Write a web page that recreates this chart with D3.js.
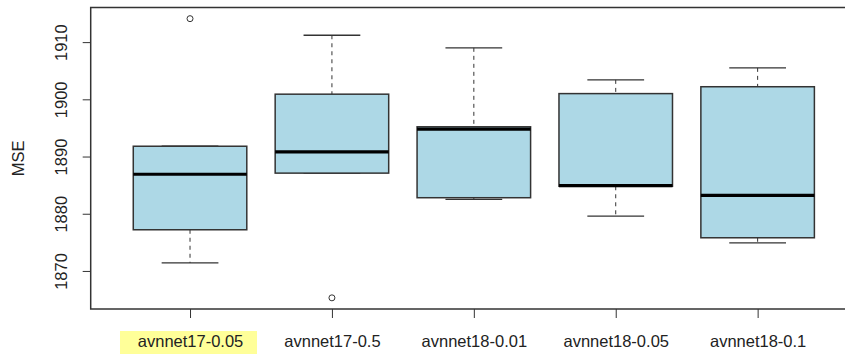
<!DOCTYPE html>
<html>
<head>
<meta charset="utf-8">
<script src="https://cdnjs.cloudflare.com/ajax/libs/d3/7.8.5/d3.min.js"></script>
<style>
  body { margin: 0; background: #fff; }
  svg { display: block; font-family: "Liberation Sans", Arial, sans-serif; }
</style>
</head>
<body>
<div id="boxPlotSVG"></div>
<script>
// values
var labels = ["avnnet17-0.05", "avnnet17-0.5", "avnnet18-0.01", "avnnet18-0.05", "avnnet18-0.1"];
var whiskerLow  = [1871.4, 1887.1, 1882.5, 1879.6, 1874.9];
var q1          = [1877.2, 1887.1, 1882.8, 1884.8, 1875.8];
var median      = [1886.9, 1890.8, 1894.8, 1884.9, 1883.2];
var q3          = [1891.8, 1900.9, 1895.2, 1901.0, 1902.2];
var whiskerHigh = [1891.8, 1911.2, 1909.0, 1903.4, 1905.5];
var outlierGroup = [1, 2];
var outlierValue = [1914.1, 1865.3];
var yTicks = [1870, 1880, 1890, 1900, 1910];

(function boxPlot(){
    var width = 845, height = 354;
    var plotLeft = 90.7, plotTop = 7.5, plotBottom = 309, unit = 141.9;

    var data = labels.map(function(d, i){
        return {name: d, pos: i + 1, lo: whiskerLow[i], q1: q1[i], med: median[i], q3: q3[i], hi: whiskerHigh[i]};
    });

    // R style: data range padded by 4%
    var allVals = whiskerLow.concat(whiskerHigh, outlierValue);
    var yMin = d3.min(allVals), yMax = d3.max(allVals), pad = (yMax - yMin) * 0.04;

    var xScale = d3.scaleLinear().domain([0.3, labels.length + 0.7])
        .range([plotLeft, plotLeft + (labels.length + 0.4) * unit]);
    var yScale = d3.scaleLinear().domain([yMin - pad, yMax + pad]).range([plotBottom, plotTop]);
    var boxW = xScale(0.8) - xScale(0);

    var svg = d3.select("#boxPlotSVG").append("svg")
        .attr("width", width)
        .attr("height", height);

    // highlighted first label
    svg.append("rect")
        .attr("x", 120).attr("y", 331)
        .attr("width", 137).attr("height", 23)
        .style("fill", "#ffff99");

    // x axis
    var xAxis = d3.axisBottom(xScale)
        .tickValues(data.map(function(d){ return d.pos; }))
        .tickFormat(function(d){ return labels[d - 1]; })
        .tickSize(9).tickPadding(0);
    var gx = svg.append("g")
        .attr("transform", "translate(0," + plotBottom + ")")
        .call(xAxis);
    gx.select(".domain").remove();
    gx.selectAll("line").attr("stroke", "#333");
    gx.selectAll("text")
        .attr("y", 38).attr("dy", 0)
        .style("font-size", "16.5px")
        .style("fill", "#222");

    // y axis
    var yAxis = d3.axisLeft(yScale).tickValues(yTicks).tickFormat(d3.format("d")).tickSize(8);
    var gy = svg.append("g")
        .attr("transform", "translate(" + plotLeft + ",0)")
        .call(yAxis);
    gy.select(".domain").remove();
    gy.selectAll("line").attr("stroke", "#333");
    gy.selectAll("text")
        .attr("x", null).attr("dy", null)
        .attr("transform", "translate(-24,0) rotate(-90)")
        .style("text-anchor", "middle")
        .style("font-size", "16.5px")
        .style("fill", "#222");

    svg.append("text")
        .attr("transform", "translate(23.5," + (plotTop + plotBottom) / 2 + ") rotate(-90)")
        .style("text-anchor", "middle")
        .style("font-size", "16.5px")
        .style("fill", "#222")
        .text("MSE");

    var boxes = svg.selectAll(".box")
        .data(data)
      .enter().append("g")
        .attr("class", "box");

    // whiskers (dashed)
    boxes.append("line")
        .attr("x1", function(d){ return xScale(d.pos); })
        .attr("x2", function(d){ return xScale(d.pos); })
        .attr("y1", function(d){ return yScale(d.hi); })
        .attr("y2", function(d){ return yScale(d.q3); })
        .style("stroke", "#333").style("stroke-dasharray", "4,4");
    boxes.append("line")
        .attr("x1", function(d){ return xScale(d.pos); })
        .attr("x2", function(d){ return xScale(d.pos); })
        .attr("y1", function(d){ return yScale(d.q1); })
        .attr("y2", function(d){ return yScale(d.lo); })
        .style("stroke", "#333").style("stroke-dasharray", "4,4");

    // whisker caps
    ["hi", "lo"].forEach(function(k){
        boxes.append("line")
            .attr("x1", function(d){ return xScale(d.pos) - boxW / 4; })
            .attr("x2", function(d){ return xScale(d.pos) + boxW / 4; })
            .attr("y1", function(d){ return yScale(d[k]); })
            .attr("y2", function(d){ return yScale(d[k]); })
            .style("stroke", "#333").style("stroke-width", 1.3);
    });

    boxes.append("rect")
        .attr("x", function(d){ return xScale(d.pos) - boxW / 2; })
        .attr("y", function(d){ return yScale(d.q3); })
        .attr("width", boxW)
        .attr("height", function(d){ return yScale(d.q1) - yScale(d.q3); })
        .style("fill", "#add8e6")
        .style("stroke", "#333")
        .style("stroke-width", 1.5);

    boxes.append("line")
        .attr("x1", function(d){ return xScale(d.pos) - boxW / 2; })
        .attr("x2", function(d){ return xScale(d.pos) + boxW / 2; })
        .attr("y1", function(d){ return yScale(d.med); })
        .attr("y2", function(d){ return yScale(d.med); })
        .style("stroke", "#000").style("stroke-width", 3.2);

    svg.selectAll(".outlier")
        .data(outlierValue)
      .enter().append("circle")
        .attr("class", "outlier")
        .attr("cx", function(d, i){ return xScale(outlierGroup[i]); })
        .attr("cy", function(d){ return yScale(d); })
        .attr("r", 3)
        .style("fill", "none")
        .style("stroke", "#333");

    // plot frame (runs off the right edge as in the original)
    svg.append("rect")
        .attr("x", plotLeft).attr("y", plotTop)
        .attr("width", xScale.range()[1] - plotLeft)
        .attr("height", plotBottom - plotTop)
        .style("fill", "none")
        .style("stroke", "#333")
        .style("stroke-width", 1.5);
}());
</script>
</body>
</html>
